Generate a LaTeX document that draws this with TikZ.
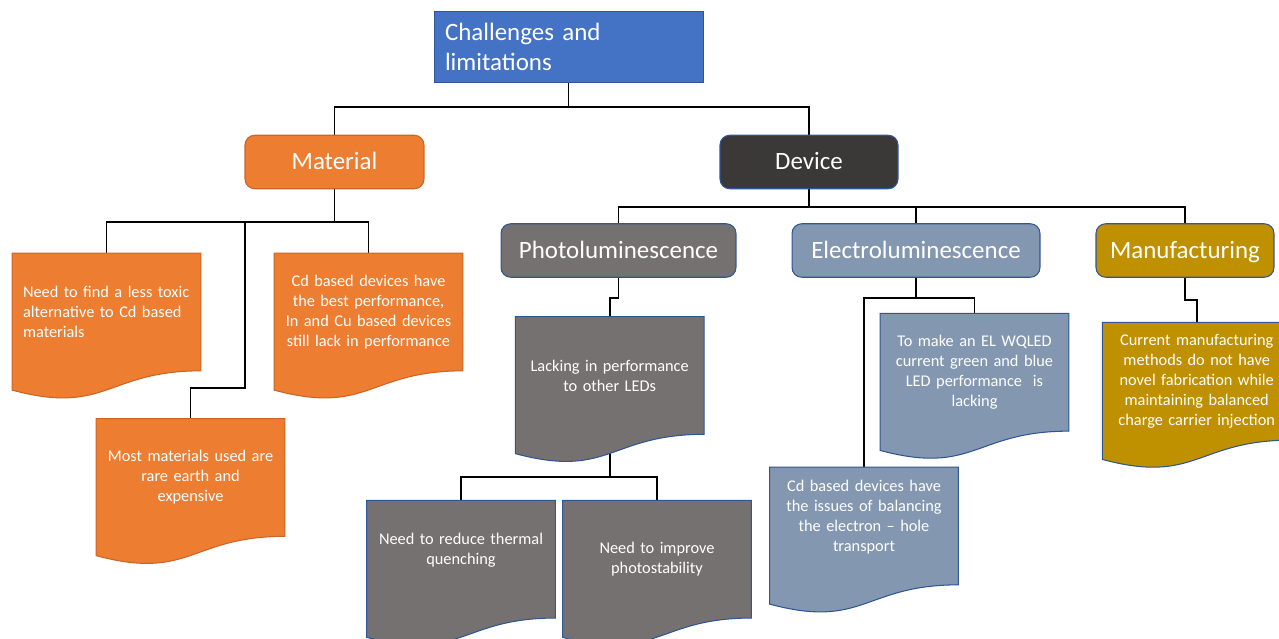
\documentclass[tikz,border=0pt]{standalone}
\usepackage{fontspec}
\setmainfont{Carlito}
\usetikzlibrary{calc, backgrounds}

\definecolor{rootblue}{HTML}{4472C4}
\definecolor{edgeblue}{HTML}{2F5597}
\definecolor{matorange}{HTML}{ED7D31}
\definecolor{matedge}{HTML}{CC6428}
\definecolor{devdark}{HTML}{3B3838}
\definecolor{plgrey}{HTML}{767171}
\definecolor{elblue}{HTML}{8497B0}
\definecolor{mfgold}{HTML}{BF9000}

\begin{document}
\begin{tikzpicture}[
    x=0.02cm, y=-0.02cm,
    rootbox/.style={rectangle, minimum width=5.38cm, minimum height=1.42cm, text width=4.94cm, align=left, inner sep=0pt, draw=edgeblue, fill=rootblue, text=white, font=\fontsize{14.2pt}{17pt}\selectfont},
    topic/.style={rectangle, rounded corners=5.5pt, minimum height=1.07cm, inner sep=0pt, text height=12pt, text depth=2.9pt, draw=edgeblue, line width=0.6pt, text=white, font=\fontsize{14.2pt}{17pt}\selectfont},
    docbox/.style={rectangle, minimum width=3.76cm, minimum height=2.34cm, text width=3.7cm, align=center, inner sep=0pt, text=white, font=\fontsize{9.3pt}{11.4pt}\selectfont},
    link/.style={line width=1.1pt, black}
]
\useasboundingbox (0,0) rectangle (1279,639);

% top levels
\node (root) [rootbox] at (568.5,46.5) {Challenges and\\limitations};
\node (mat) [topic, fill=matorange, draw=matedge, minimum width=3.58cm] at (334.5,162) {Material};
\node (dev) [topic, fill=devdark, minimum width=3.56cm] at (809,162) {Device};
\node (pl) [topic, fill=plgrey, minimum width=4.7cm] at (618.5,250.5) {Photoluminescence};
\node (el) [topic, fill=elblue, minimum width=4.96cm] at (916,250.5) {Electroluminescence};
\node (mf) [topic, fill=mfgold, minimum width=3.56cm] at (1185,250.5) {Manufacturing};

% documents
\node (m1) [docbox, align=left, text width=3.34cm] at (106.5,312) {\mbox{Need to find a less toxic}\\alternative to Cd based\\materials};
\node (m3) [docbox] at (368.5,312) {Cd based devices have\\the best performance,\\In and Cu based devices\\still lack in performance};
\node (m2) [docbox] at (190.5,477.5) {Most materials used are\\rare earth and\\expensive};
\node (lack) [docbox] at (609.7,375.5) {Lacking in performance\\to other LEDs};
\node (q1) [docbox] at (461,559.2) {Need to reduce thermal\\quenching\\~};
\node (q2) [docbox] at (657,559.2) {Need to improve\\photostability};
\node (el1) [docbox] at (974.5,372.3) {To make an EL WQLED\\current green and blue\\LED performance\ \ is\\lacking};
\node (el2) [docbox] at (864,526) {Cd based devices have\\the issues of balancing\\the electron – hole\\transport\\~};
\node (man1) [docbox] at (1196.7,381.3) {Current manufacturing\\methods do not have\\novel fabrication while\\maintaining balanced\\charge carrier injection};

\begin{scope}[on background layer]
% connectors
\draw [link] (root.south) -- ++(0,25) -| (mat.north);
\draw [link] (root.south) -- ++(0,25) -| (dev.north);
\draw [link] (mat.south) -- ++(0,33) -| (m1.north);
\draw [link] (mat.south) -- ++(0,33) -| (m3.north);
\draw [link] (mat.south) |- (245,222) -- (245,388) -| (m2.north);
\draw [link] (dev.south) -- ++(0,18) -| (pl.north);
\draw [link] (dev.south) -- ++(0,18) -| (el.north);
\draw [link] (dev.south) -- ++(0,18) -| (mf.north);
\draw [link] (pl.south) -- ++(0,20) -| (lack.north);
\draw [link] (lack.south) -- ++(0,43) -| (q1.north);
\draw [link] (lack.south) -- ++(0,43) -| (q2.north);
\draw [link] (el.south) -- ++(0,20) -| (el1.north);
\draw [link] (el.south) -- ++(0,20) -| (el2.north);
\draw [link] (mf.south) -- ++(0,22) -| (man1.north);

% document outlines
\foreach \n/\f/\d in {m1/matorange/matedge, m2/matorange/matedge, m3/matorange/matedge,
    lack/plgrey/edgeblue, q1/plgrey/edgeblue, q2/plgrey/edgeblue,
    el1/elblue/edgeblue, el2/elblue/edgeblue, man1/mfgold/edgeblue}
  \draw [fill=\f, draw=\d, line width=0.6pt] (\n.north west) -- (\n.north east) -- (\n.south east)
    .. controls (\n.south) and ($(\n.south)+(0,44.6)$) .. ($(\n.south west)+(0,19.3)$) -- cycle;
\end{scope}

\end{tikzpicture}
\end{document}
